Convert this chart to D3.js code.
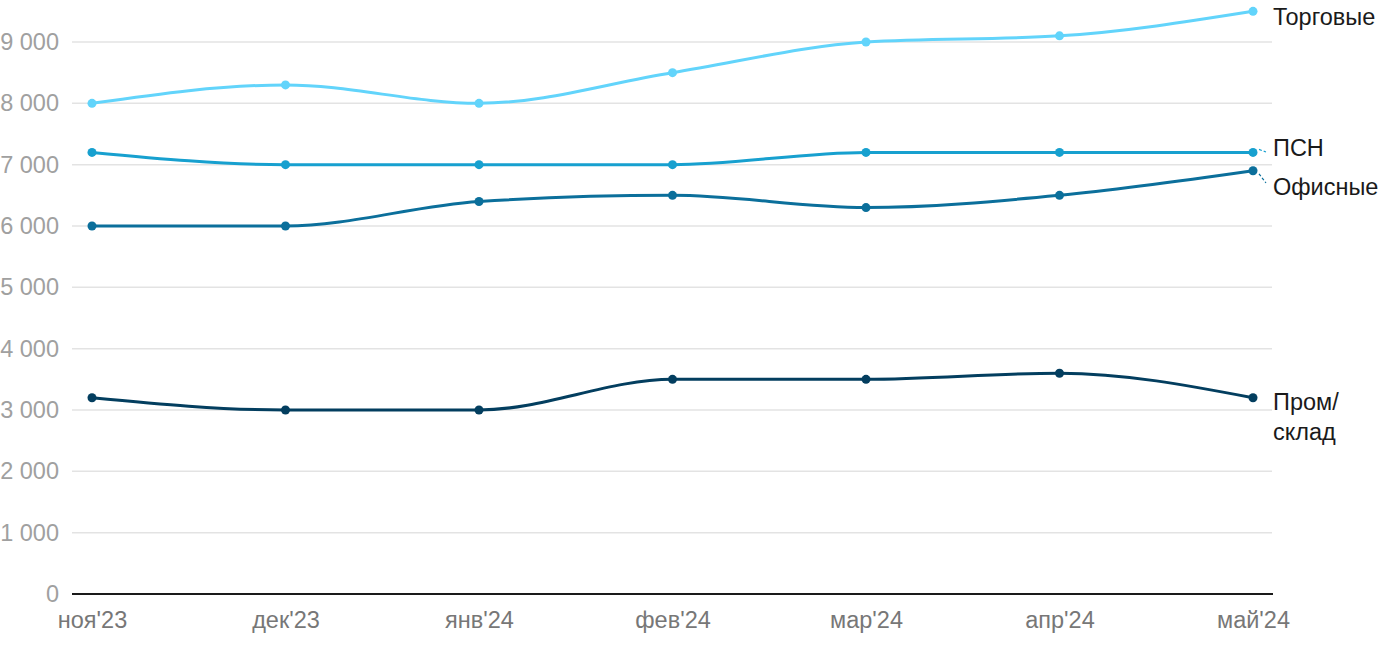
<!DOCTYPE html>
<html><head><meta charset="utf-8">
<script src="https://cdn.jsdelivr.net/npm/d3@7"></script>
<style>body{margin:0;background:#fff;font-family:"Liberation Sans",Arial,sans-serif}</style>
</head><body><svg id="c" width="1400" height="650"></svg>
<script>
const categories = ["ноя'23","дек'23","янв'24","фев'24","мар'24","апр'24","май'24"];
const torg = [8000,8300,8000,8500,9000,9100,9500];
const psn = [7200,7000,7000,7000,7200,7200,7200];
const ofis = [6000,6000,6400,6500,6300,6500,6900];
const prom = [3200,3000,3000,3500,3500,3600,3200];
const yTicks = [0,1000,2000,3000,4000,5000,6000,7000,8000,9000];
const series = [
  {name:["Торговые"], values:torg, color:"#62d4fb", ly:17},
  {name:["ПСН"], values:psn, color:"#17a0cf", ly:148, conn:true},
  {name:["Офисные"], values:ofis, color:"#0b6f9b", ly:187, conn:true},
  {name:["Пром/","склад"], values:prom, color:"#033e5f", ly:402}
];
const FONT = "Liberation Sans";
const svg = d3.select("#c");
const x = d3.scalePoint().domain(categories).range([92,1253]);
const y = d3.scaleLinear().domain([0,9000]).range([594,42]);
const fmt = v => d3.format(",")(v).replace(/,/g," ");
svg.append("g").selectAll("line").data(yTicks.filter(d=>d>0)).join("line")
  .attr("x1",72).attr("x2",1272).attr("y1",d=>y(d)).attr("y2",d=>y(d))
  .attr("stroke","#e3e3e3").attr("stroke-width",1.5);
const ya = svg.append("g").attr("transform","translate(59,0)")
  .call(d3.axisLeft(y).tickValues(yTicks).tickFormat(fmt).tickSize(0).tickPadding(0));
ya.select(".domain").remove();
ya.selectAll("text").attr("font-family",FONT).attr("font-size",23.5).attr("fill","#a0a0a0");
const xa = svg.append("g").attr("transform","translate(0,594)")
  .call(d3.axisBottom(x).tickSize(0).tickPadding(17));
xa.select(".domain").remove();
xa.selectAll("text").attr("font-family",FONT).attr("font-size",23.5).attr("fill","#777");
svg.append("line").attr("x1",72).attr("x2",1273).attr("y1",594).attr("y2",594).attr("stroke","#1a1a1a").attr("stroke-width",2);
const line = d3.line().x((d,i)=>x(categories[i])).y(d=>y(d)).curve(d3.curveMonotoneX);
series.forEach(s=>{
  svg.append("path").attr("d",line(s.values)).attr("fill","none").attr("stroke",s.color).attr("stroke-width",3);
  svg.append("g").selectAll("circle").data(s.values).join("circle")
    .attr("cx",(d,i)=>x(categories[i])).attr("cy",d=>y(d)).attr("r",4.5).attr("fill",s.color);
  const lx = x(categories[categories.length-1]), ly = y(s.values[s.values.length-1]);
  if(s.conn){
    svg.append("line").attr("x1",lx+6).attr("y1",ly+(s.ly>ly?3:-3)).attr("x2",1266).attr("y2",s.ly+(s.ly>ly?-4:4))
      .attr("stroke",s.color).attr("stroke-width",1.2).attr("stroke-dasharray","3,2");
  }
  const t = svg.append("text").attr("x",1273).attr("y",s.ly).attr("font-family",FONT).attr("font-size",23.5).attr("fill","#1a1a1a").attr("dominant-baseline","central");
  s.name.forEach((n,i)=>t.append("tspan").attr("x",1273).attr("dy",i===0?0:30).text(n));
});
</script></body></html>
